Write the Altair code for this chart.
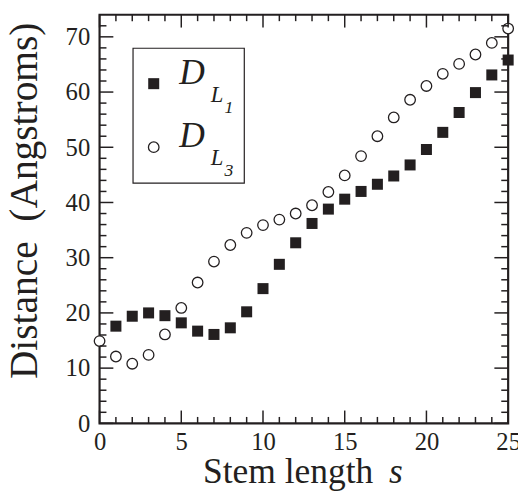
import altair as alt
import pandas as pd

# ---- data ----
stem = list(range(26))
d_l1 = [None, 17.6, 19.4, 20.0, 19.5, 18.2, 16.7, 16.1, 17.3, 20.2, 24.4, 28.8, 32.7,
        36.2, 38.8, 40.6, 42.0, 43.3, 44.8, 46.8, 49.6, 52.7, 56.3, 59.9, 63.1, 65.8]
d_l3 = [14.9, 12.1, 10.8, 12.4, 16.1, 20.9, 25.5, 29.3, 32.3, 34.5, 35.9, 36.9, 38.0,
        39.5, 41.9, 44.9, 48.4, 52.0, 55.4, 58.6, 61.1, 63.3, 65.1, 66.8, 68.9, 71.5]

x_major = [0, 5, 10, 15, 20, 25]
x_minor = [v for v in range(26) if v % 5 != 0]
y_major = [0, 10, 20, 30, 40, 50, 60, 70]
y_minor = [v for v in range(0, 74, 2) if v % 10 != 0]

W, H = 415, 415
XMAX, YMAX = 25, 74
FONT = "Liberation Serif"
INK = "#231f20"

xs = alt.Scale(domain=[0, XMAX], nice=False, zero=False)
ys = alt.Scale(domain=[0, YMAX], nice=False, zero=False)

# one table for all marks (series points and the inward frame ticks)
rows = []
for s, v in zip(stem, d_l1):
    if v is not None:
        rows.append({"kind": "L1", "s": s, "d": v, "s2": s, "d2": v})
for s, v in zip(stem, d_l3):
    rows.append({"kind": "L3", "s": s, "d": v, "s2": s, "d2": v})
ky = YMAX / H   # data units per pixel, vertical
kx = XMAX / W   # data units per pixel, horizontal
TW = 1.5        # tick thickness in pixels
for vals, L in ((x_major, 13.0), (x_minor, 6.5)):
    for v in vals:
        a, b = v - TW / 2 * kx, v + TW / 2 * kx
        rows.append({"kind": "tick", "s": a, "s2": b, "d": 0, "d2": L * ky})
        rows.append({"kind": "tick", "s": a, "s2": b, "d": YMAX, "d2": YMAX - L * ky})
for vals, L in ((y_major, 14.0), (y_minor, 7.0)):
    for v in vals:
        a, b = v - TW / 2 * ky, v + TW / 2 * ky
        rows.append({"kind": "tick", "s": 0, "s2": L * kx, "d": a, "d2": b})
        rows.append({"kind": "tick", "s": XMAX, "s2": XMAX - L * kx, "d": a, "d2": b})
main = pd.DataFrame(rows)
base = alt.Chart(main)

squares = base.transform_filter("datum.kind == 'L1'").mark_point(
    shape="square", filled=True, size=125, color=INK, opacity=1).encode(
    x=alt.X("s:Q", scale=xs,
            axis=alt.Axis(values=x_major, ticks=False, domain=False, grid=False, title=None,
                          labelFont=FONT, labelFontSize=25, labelColor=INK, labelPadding=7,
                          labelFlush=False)),
    y=alt.Y("d:Q", scale=ys,
            axis=alt.Axis(values=y_major, ticks=False, domain=False, grid=False, title=None,
                          labelFont=FONT, labelFontSize=25, labelColor=INK, labelPadding=10,
                          labelFlush=False)),
)

circles = base.transform_filter("datum.kind == 'L3'").mark_point(
    shape="circle", filled=False, size=115, color=INK, strokeWidth=1.3,
    fill="white", fillOpacity=1, opacity=1).encode(
    x=alt.X("s:Q", scale=xs),
    y=alt.Y("d:Q", scale=ys),
)

ticks = base.transform_filter("datum.kind == 'tick'").mark_rect(
    fill=INK, opacity=1, strokeWidth=0).encode(
    x=alt.X("s:Q", scale=xs), x2="s2:Q",
    y=alt.Y("d:Q", scale=ys), y2="d2:Q",
)

one = pd.DataFrame({"k": [0]})

def txt(text, x, y, size, italic=False, angle=0, align="left", baseline="alphabetic"):
    kw = dict(font=FONT, fontSize=size, color=INK, align=align, baseline=baseline)
    if italic:
        kw["fontStyle"] = "italic"
    if angle:
        kw["angle"] = angle
    return alt.Chart(one).mark_text(**kw).encode(
        x=alt.value(x), y=alt.value(y), text=alt.value(text))

legend_box = alt.Chart(one).mark_rect(fill="white", stroke=INK, strokeWidth=1.2).encode(
    x=alt.value(34), x2=alt.value(147), y=alt.value(34), y2=alt.value(171))
leg_sq = alt.Chart(one).mark_point(shape="square", filled=True, size=125, color=INK, opacity=1).encode(
    x=alt.value(55), y=alt.value(70))
leg_ci = alt.Chart(one).mark_point(shape="circle", filled=False, size=115, color=INK,
                                   strokeWidth=1.3, opacity=1).encode(
    x=alt.value(55), y=alt.value(134.5))

texts = [
    txt("D", 81, 70, 36, italic=True),
    txt("L", 113, 88.5, 23, italic=True),
    txt("1", 127, 99.5, 18, italic=True),
    txt("D", 81, 134.5, 36, italic=True),
    txt("L", 113, 152.5, 23, italic=True),
    txt("3", 127, 164, 18, italic=True),
    txt("Stem length", 105, 476, 36),
    txt("s", 294, 476, 36, italic=True),
    txt("Distance\u00a0\u00a0(Angstroms)", -76, 189, 40, angle=270, align="center", baseline="middle"),
]

layers = [squares, circles, ticks, legend_box, leg_sq, leg_ci] + texts

chart = alt.layer(*layers).properties(
    width=W, height=H,
    autosize=alt.AutoSizeParams(type="none"),
    padding={"left": 93, "top": 3, "right": 10, "bottom": 74},
).configure_view(stroke=INK, strokeWidth=2.2)

chart.save("out.html", embed_options={"renderer": "svg", "actions": False})
